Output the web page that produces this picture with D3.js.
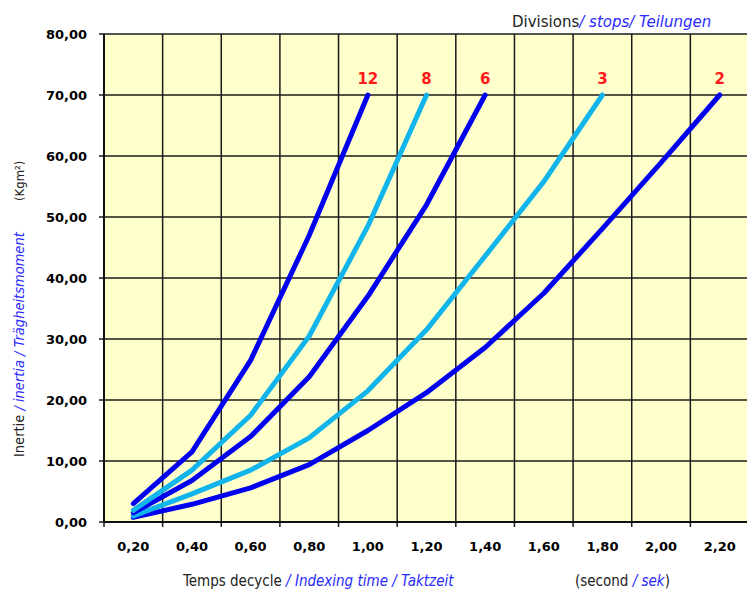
<!DOCTYPE html>
<html>
<head>
<meta charset="utf-8">
<script src="https://cdn.jsdelivr.net/npm/d3@7"></script>
<style>
  body { margin: 0; background: #fff; }
  svg { display: block; }
</style>
</head>
<body>
<div id="chart"></div>
<script>
// indexing time categories (seconds)
const categories = ['0,20', '0,40', '0,60', '0,80', '1,00', '1,20', '1,40', '1,60', '1,80', '2,00', '2,20'];
const yTicks = [0, 10, 20, 30, 40, 50, 60, 70, 80];

// inertia (kgm²) per number of divisions, one value per category from 0,20 on
const divisions = ['12', '8', '6', '3', '2'];
const inertia12 = [3.0, 11.5, 26.5, 47.0, 70.0];
const inertia8 = [1.9, 8.5, 17.5, 30.5, 48.5, 70.0];
const inertia6 = [1.5, 6.8, 14.0, 23.8, 37.0, 52.0, 70.0];
const inertia3 = [1.0, 4.6, 8.5, 13.8, 21.5, 31.5, 43.6, 55.8, 70.0];
const inertia2 = [0.75, 2.9, 5.6, 9.4, 15.0, 21.2, 28.6, 37.5, 48.1, 58.9, 70.0];

const seriesValues = [inertia12, inertia8, inertia6, inertia3, inertia2];
const seriesColors = ['#0000ee', '#12b4ec', '#0000ee', '#12b4ec', '#0000ee'];

const width = 747;
const height = 590;
const plot = { left: 104, right: 749, top: 34, bottom: 522 };

const svg = d3.select('#chart').append('svg')
    .attr('width', width)
    .attr('height', height);

const x = d3.scaleBand().domain(categories).range([plot.left, plot.right]).padding(0);
const y = d3.scaleLinear().domain([0, 80]).range([plot.bottom, plot.top]);
const cx = (c) => x(c) + x.bandwidth() / 2;

// plot background
svg.append('rect')
    .attr('x', plot.left).attr('y', plot.top)
    .attr('width', plot.right - plot.left).attr('height', plot.bottom - plot.top)
    .attr('fill', '#ffffcc');

// gridlines: horizontal at y ticks, vertical at category boundaries
const grid = svg.append('g').attr('stroke', '#1a1a1a').attr('stroke-width', 1.5);
grid.selectAll('line.h').data(yTicks).join('line')
    .attr('class', 'h')
    .attr('x1', plot.left - 5).attr('x2', plot.right)
    .attr('y1', (d) => y(d)).attr('y2', (d) => y(d));
grid.selectAll('line.v').data(categories).join('line')
    .attr('class', 'v')
    .attr('x1', (d) => x(d)).attr('x2', (d) => x(d))
    .attr('y1', plot.top).attr('y2', plot.bottom + 5);

// y axis labels
const yAxis = d3.axisLeft(y)
    .tickValues(yTicks)
    .tickSize(0)
    .tickPadding(17)
    .tickFormat((d) => d3.format('.2f')(d).replace('.', ','));
svg.append('g')
    .attr('transform', `translate(${plot.left}, 0)`)
    .call(yAxis)
    .call((g) => g.select('.domain').remove())
    .selectAll('text')
    .attr('font-family', 'DejaVu Sans')
    .attr('font-weight', 'bold')
    .attr('font-size', 13)
    .attr('fill', '#000');

// x axis labels (centred in each category)
const xAxis = d3.axisBottom(x).tickSize(0).tickPadding(20);
svg.append('g')
    .attr('transform', `translate(0, ${plot.bottom})`)
    .call(xAxis)
    .call((g) => g.select('.domain').remove())
    .selectAll('text')
    .attr('font-family', 'DejaVu Sans')
    .attr('font-weight', 'bold')
    .attr('font-size', 13)
    .attr('fill', '#000');

// axis lines
svg.append('line')
    .attr('x1', plot.left).attr('x2', plot.left)
    .attr('y1', plot.top).attr('y2', plot.bottom)
    .attr('stroke', '#111').attr('stroke-width', 2);
svg.append('line')
    .attr('x1', plot.left).attr('x2', plot.right)
    .attr('y1', plot.bottom).attr('y2', plot.bottom)
    .attr('stroke', '#111').attr('stroke-width', 2);

// curves
const line = d3.line()
    .x((d, i) => cx(categories[i]))
    .y((d) => y(d));

const series = seriesValues.map((values, i) => ({ name: divisions[i], values, color: seriesColors[i] }));

svg.append('g').selectAll('path').data(series.slice().reverse()).join('path')
    .attr('d', (d) => line(d.values))
    .attr('fill', 'none')
    .attr('stroke', (d) => d.color)
    .attr('stroke-width', 5)
    .attr('stroke-linecap', 'round')
    .attr('stroke-linejoin', 'round');

// division labels above each curve end
svg.append('g').selectAll('text').data(series).join('text')
    .attr('x', (d) => cx(categories[d.values.length - 1]))
    .attr('y', (d) => y(d.values[d.values.length - 1]) - 11)
    .attr('text-anchor', 'middle')
    .attr('font-family', 'DejaVu Sans')
    .attr('font-weight', 'bold')
    .attr('font-size', 15)
    .attr('fill', '#ff1a1a')
    .text((d) => d.name);

// titles
const titleFont = 'DejaVu Sans Condensed';
const blue = '#2a2aff';

const divTitle = svg.append('text')
    .attr('x', 512).attr('y', 27)
    .attr('font-family', 'DejaVu Sans').attr('font-size', 15);
divTitle.append('tspan').attr('fill', '#222').text('Divisions');
divTitle.append('tspan').attr('fill', blue).attr('font-style', 'italic').text('/ stops/ Teilungen');

const xTitle = svg.append('text')
    .attr('x', 183).attr('y', 586)
    .attr('font-family', titleFont).attr('font-size', 15);
xTitle.append('tspan').attr('fill', '#222').text('Temps decycle ');
xTitle.append('tspan').attr('fill', blue).attr('font-style', 'italic').text('/ Indexing time / Taktzeit');

const unitX = svg.append('text')
    .attr('x', 575).attr('y', 586)
    .attr('font-family', titleFont).attr('font-size', 15);
unitX.append('tspan').attr('fill', '#222').text('(second ');
unitX.append('tspan').attr('fill', blue).attr('font-style', 'italic').text('/ sek');
unitX.append('tspan').attr('fill', '#222').text(')');

const yTitle = svg.append('text')
    .attr('transform', 'translate(24, 457) rotate(-90)')
    .attr('font-family', titleFont).attr('font-size', 14.5);
yTitle.append('tspan').attr('fill', '#222').text('Inertie ');
yTitle.append('tspan').attr('fill', blue).attr('font-style', 'italic').text('/ inertia / Trägheitsmoment');

svg.append('text')
    .attr('transform', 'translate(24, 201) rotate(-90)')
    .attr('font-family', titleFont).attr('font-size', 13)
    .attr('fill', '#222')
    .text('(Kgm²)');
</script>
</body>
</html>
